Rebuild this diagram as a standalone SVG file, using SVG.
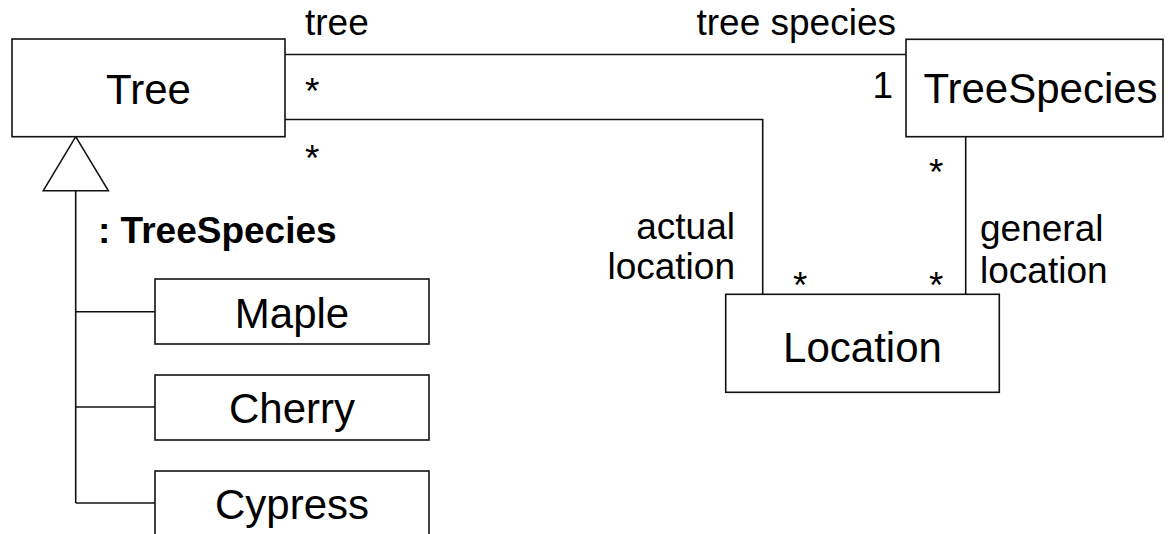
<svg xmlns="http://www.w3.org/2000/svg" width="1173" height="534" viewBox="0 0 1173 534">
  <style>
    .box { fill: #fff; stroke: #111; stroke-width: 1.6; }
    .line { fill: none; stroke: #111; stroke-width: 1.6; }
    .name { font-family: "Liberation Sans", Arial, sans-serif; font-size: 42px; fill: #000; text-anchor: middle; }
    .lbl { font-family: "Liberation Sans", Arial, sans-serif; font-size: 37px; fill: #000; }
    .end { text-anchor: end; }
    .bold { font-weight: bold; }
  </style>
  <rect width="1173" height="534" fill="#fff"/>

  <!-- associations and generalization tree -->
  <g id="connectors">
    <polyline class="line" points="285,54.5 906,54.5"/>
    <polyline class="line" points="285,119.5 762.7,119.5 762.7,294.3"/>
    <polyline class="line" points="965.7,136.7 965.7,294.3"/>
    <polyline class="line" points="75.7,190.7 75.7,503"/>
    <polyline class="line" points="75.7,311.7 155,311.7"/>
    <polyline class="line" points="75.7,407 155,407"/>
    <polyline class="line" points="75.7,503 155,503"/>
    <polygon class="box" points="75.7,136.7 108.3,190.7 43.3,190.7"/>
    <!-- association role names and multiplicities -->
    <text class="lbl" x="305" y="35">tree</text>
    <text class="lbl end" x="896" y="35">tree species</text>
    <text class="lbl" x="305" y="104">*</text>
    <text class="lbl" x="305" y="171">*</text>
    <text class="lbl end" x="893" y="98">1</text>
    <text class="lbl" x="929" y="185">*</text>
    <text class="lbl end" x="735" y="239">actual</text>
    <text class="lbl end" x="735" y="279">location</text>
    <text class="lbl" x="793" y="298">*</text>
    <text class="lbl" x="929" y="298">*</text>
    <text class="lbl" x="980" y="241">general</text>
    <text class="lbl" x="980" y="283">location</text>
    <text class="lbl bold" x="98" y="243">: TreeSpecies</text>
  </g>

  <g id="tree">
    <rect class="box" x="12" y="39" width="273" height="97.7"/>
    <text class="name" x="148.5" y="104">Tree</text>
  </g>

  <g id="treespecies">
    <rect class="box" x="906" y="39.3" width="257" height="97.4"/>
    <text class="name" x="1040.5" y="103">TreeSpecies</text>
  </g>

  <g id="location">
    <rect class="box" x="725.7" y="294.3" width="273.6" height="98"/>
    <text class="name" x="862.5" y="362">Location</text>
  </g>

  <g id="maple">
    <rect class="box" x="155" y="279" width="274" height="65"/>
    <text class="name" x="292" y="327.7">Maple</text>
  </g>

  <g id="cherry">
    <rect class="box" x="155" y="375" width="274" height="65"/>
    <text class="name" x="292" y="423">Cherry</text>
  </g>

  <g id="cypress">
    <rect class="box" x="155" y="471" width="274" height="75"/>
    <text class="name" x="292" y="519">Cypress</text>
  </g>
</svg>
